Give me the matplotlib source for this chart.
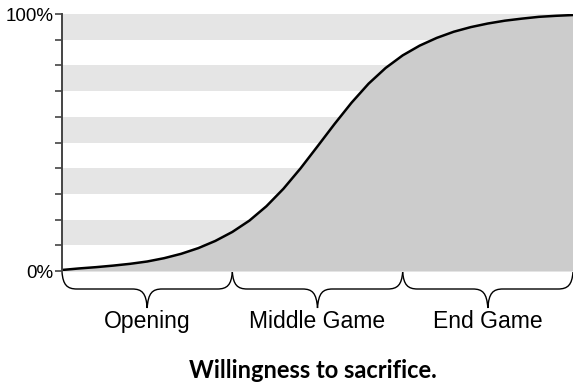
import matplotlib.pyplot as plt
from matplotlib.path import Path
from matplotlib.patches import PathPatch
import matplotlib.transforms as mtransforms

# game progress (0-3, one unit per phase) and willingness to sacrifice (%)
progress = [0.0, 0.1, 0.2, 0.3, 0.4, 0.5, 0.6, 0.7, 0.8, 0.9,
            1.0, 1.1, 1.2, 1.3, 1.4, 1.5, 1.6, 1.7, 1.8, 1.9,
            2.0, 2.1, 2.2, 2.3, 2.4, 2.5, 2.6, 2.7, 2.8, 2.9, 3.0]
willingness = [0.4, 1.0, 1.5, 2.1, 2.8, 3.7, 5.0, 6.7, 8.9, 11.7,
               15.2, 19.6, 25.2, 32.0, 39.9, 48.5, 57.2, 65.5, 72.9, 79.0,
               83.9, 87.7, 90.7, 93.1, 94.9, 96.3, 97.4, 98.2, 98.9, 99.3, 99.6]

phases = ['Opening', 'Middle Game', 'End Game']
phase_edges = [0, 1, 2, 3]

fig = plt.figure(figsize=(5.73, 3.9), dpi=100)
ax = fig.add_axes([0.1082, 0.3051, 0.8918, 0.659])

# alternating background stripes every 10%
for lo in range(10, 100, 20):
    ax.axhspan(lo, lo + 10, color='#e5e5e5', lw=0, zorder=0)

ax.fill_between(progress, willingness, 0, color='#cccccc', lw=0, zorder=1)
ax.plot(progress, willingness, color='black', lw=1.8, zorder=2,
        solid_capstyle='butt', solid_joinstyle='round')

ax.set_xlim(0, 3)
ax.set_ylim(0, 100)
ax.set_xticks([])
ax.set_yticks([0, 100])
ax.set_yticklabels(['0%', '100%'], fontsize=13.5, family='Liberation Sans')
ax.set_yticks(range(10, 100, 10), minor=True)
ax.tick_params(axis='y', which='both', length=5, width=1.2, color='#444444', pad=1)
for side in ['top', 'right', 'bottom']:
    ax.spines[side].set_visible(False)
ax.spines['left'].set_color('#444444')
ax.spines['left'].set_linewidth(1.4)
ax.patch.set_visible(False)

# curly braces under each phase
trans = mtransforms.blended_transform_factory(ax.transData, ax.transAxes)
r = 0.088
y_top, y_mid, y_tip = -0.004, -0.070, -0.144
for name, a, b in zip(phases, phase_edges[:-1], phase_edges[1:]):
    m = (a + b) / 2
    verts = [
        (a, y_top), (a + 0.006, -0.054), (a + 0.03, y_mid), (a + r, y_mid),
        (m - r, y_mid),
        (m - 0.03, y_mid), (m - 0.006, -0.086), (m, y_tip),
        (m + 0.006, -0.086), (m + 0.03, y_mid), (m + r, y_mid),
        (b - r, y_mid),
        (b - 0.03, y_mid), (b - 0.006, -0.054), (b, y_top),
    ]
    codes = [Path.MOVETO, Path.CURVE4, Path.CURVE4, Path.CURVE4,
             Path.LINETO,
             Path.CURVE4, Path.CURVE4, Path.CURVE4,
             Path.CURVE4, Path.CURVE4, Path.CURVE4,
             Path.LINETO,
             Path.CURVE4, Path.CURVE4, Path.CURVE4]
    ax.add_patch(PathPatch(Path(verts, codes), transform=trans, fill=False,
                           lw=1.0, edgecolor='black', clip_on=False))
    ax.text(m, -0.197, name, transform=trans, ha='center', va='center',
            fontsize=16.5, family='Liberation Sans')

fig.text(0.546, 0.049, 'Willingness to sacrifice.', ha='center', va='center',
         fontsize=17, fontweight='bold', family='Lato')

fig.savefig('out.png', dpi=100)
